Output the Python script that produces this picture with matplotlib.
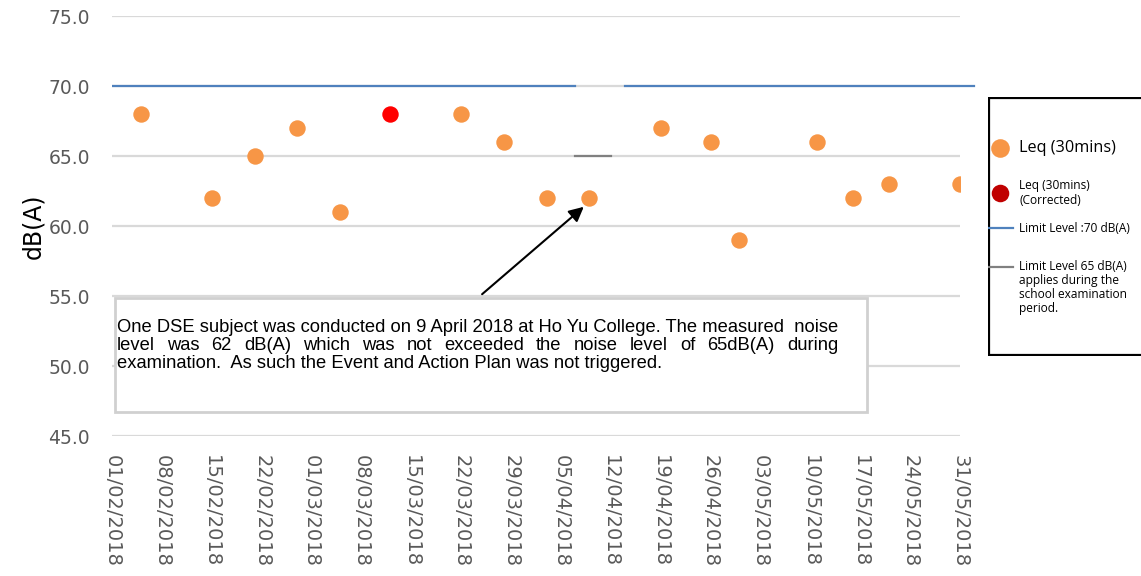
import pandas as pd
import matplotlib.pyplot as plt
import matplotlib.dates as mdates
from matplotlib.patches import Rectangle

# --- Data ---
leq_dates = ["2018-02-05", "2018-02-15", "2018-02-21", "2018-02-27", "2018-03-05",
             "2018-03-22", "2018-03-28", "2018-04-03", "2018-04-09", "2018-04-19",
             "2018-04-26", "2018-04-30", "2018-05-11", "2018-05-16", "2018-05-21",
             "2018-05-31"]
leq_values = [68, 62, 65, 67, 61, 68, 66, 62, 62, 67, 66, 59, 66, 62, 63, 63]

corr_dates = ["2018-03-12"]
corr_values = [68]

limit70_a_dates = ["2018-02-01", "2018-04-07"]
limit70_b_dates = ["2018-04-14", "2018-06-02"]
limit70_value = 70
limit65_dates = ["2018-04-07", "2018-04-12"]
limit65_value = 65

note_lines = [
    "One DSE subject was conducted on 9 April 2018 at Ho Yu College. The measured  noise",
    "level was 62 dB(A) which was not exceeded the noise level of 65dB(A) during",
    "examination.  As such the Event and Action Plan was not triggered.",
]

leq_dates = pd.to_datetime(leq_dates)
corr_dates = pd.to_datetime(corr_dates)

ORANGE = "#F79646"
GRID = "#D9D9D9"
TICK = "#595959"

fig = plt.figure(figsize=(11.41, 5.76), dpi=100)
W, H = 1141, 576
ax = fig.add_axes([112 / W, 1 - 436 / H, (960 - 112) / W, (436 - 16) / H])

ax.set_xlim(pd.Timestamp("2018-02-01"), pd.Timestamp("2018-05-31"))
ax.set_ylim(45, 75)
ax.set_yticks([45, 50, 55, 60, 65, 70, 75])
ax.yaxis.set_major_formatter(plt.FuncFormatter(lambda v, p: f"{v:.1f}"))
ax.set_xticks(pd.date_range("2018-02-01", "2018-05-31", freq="7D"))
ax.xaxis.set_major_formatter(mdates.DateFormatter("%d/%m/%Y"))

ax.grid(axis="y", color=GRID, linewidth=1.6)
ax.set_axisbelow(True)
for s in ax.spines.values():
    s.set_visible(False)
ax.tick_params(length=0)
ax.tick_params(axis="y", labelsize=13.5, colors=TICK, pad=16)
ax.tick_params(axis="x", labelsize=14, colors=TICK, pad=14)
for lbl in ax.get_xticklabels():
    lbl.set_rotation(270)
    lbl.set_va("top")
    lbl.set_ha("center")
ax.set_ylabel("dB(A)", fontsize=17, labelpad=2)

# limit lines
ax.plot(pd.to_datetime(limit70_a_dates), [limit70_value] * 2, color="#4F81BD", lw=1.6)
ax.plot(pd.to_datetime(limit70_b_dates), [limit70_value] * 2, color="#4F81BD", lw=1.6, clip_on=False)
ax.plot(pd.to_datetime(limit65_dates), [limit65_value] * 2, color="#808080", lw=1.6)

# points
ax.scatter(leq_dates, leq_values, s=140, color=ORANGE, zorder=3, linewidths=0)
ax.scatter(corr_dates, corr_values, s=140, color="#FF0000", zorder=3, linewidths=0)

# note box + arrow
fig.patches.append(Rectangle((115 / W, 1 - 412 / H), (867 - 115) / W, (412 - 298) / H,
                             transform=fig.transFigure, facecolor="white",
                             edgecolor="#D0D0D0", linewidth=2, zorder=5))
note_kw = dict(fontsize=13.2, family="Liberation Sans", va="baseline", ha="left", zorder=6)
x0, x1 = 117, 838
baselines = [332, 350, 368]
fig.text(x0 / W, 1 - baselines[0] / H, note_lines[0], **note_kw)
fig.text(x0 / W, 1 - baselines[2] / H, note_lines[2], **note_kw)

# second line is justified across the box
words = note_lines[1].split()
renderer = fig.canvas.get_renderer()
widths = []
for w in words:
    t = fig.text(0, 0, w, **note_kw)
    widths.append(t.get_window_extent(renderer).width)
    t.remove()
gap = (x1 - x0 - sum(widths)) / (len(words) - 1)
xpos = x0
for w, wd in zip(words, widths):
    fig.text(xpos / W, 1 - baselines[1] / H, w, **note_kw)
    xpos += wd + gap

ax.annotate("", xy=(pd.Timestamp("2018-04-08 12:00"), 61.5), xycoords="data",
            xytext=(480 / W, 1 - 296 / H), textcoords="figure fraction",
            arrowprops=dict(arrowstyle="-|>", color="black", lw=1.5, mutation_scale=22))

# legend box
lg = fig.add_axes([988 / W, 1 - 356 / H, (1141 - 988) / W, (356 - 97) / H])
lg.set_xlim(988, 1141)
lg.set_ylim(356, 97)
lg.axis("off")
lg.add_patch(Rectangle((989, 98), 160, 257, facecolor="white", edgecolor="black",
                       linewidth=1.6, clip_on=True))
lg.scatter([1000], [148], s=180, color=ORANGE, linewidths=0)
lg.text(1019, 148, "Leq (30mins)", fontsize=11.7, va="center", family="Open Sans")
lg.scatter([1000], [193], s=160, color="#C00000", linewidths=0)
lg.text(1019, 193, "Leq (30mins)\n(Corrected)", fontsize=8.6, va="center",
        family="Open Sans", linespacing=1.1)
lg.plot([988, 1013], [228, 228], color="#4F81BD", lw=1.6)
lg.text(1019, 228, "Limit Level :70 dB(A)", fontsize=8.6, va="center", family="Open Sans")
lg.plot([988, 1013], [267, 267], color="#808080", lw=1.6)
lg.text(1019, 260, "Limit Level 65 dB(A)\napplies during the\nschool examination\nperiod.",
        fontsize=8.6, va="top", family="Open Sans", linespacing=1.1)

fig.savefig("out.png", dpi=100)
